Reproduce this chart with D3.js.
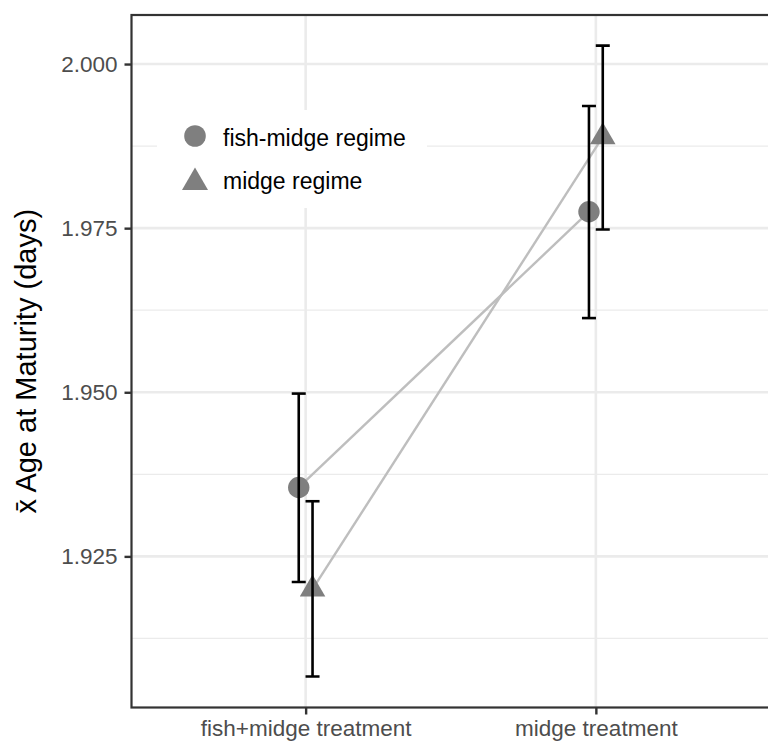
<!DOCTYPE html>
<html><head><meta charset="utf-8">
<script src="https://cdn.jsdelivr.net/npm/d3@7"></script>
<style>body{margin:0;background:#fff}svg{display:block}</style>
</head><body>
<script>
const treatments = ["fish+midge treatment", "midge treatment"];
const regimes = ["fish-midge regime", "midge regime"];
const meanFishMidgeRegime = [1.9355, 1.9775];
const lowFishMidgeRegime = [1.9211, 1.9613];
const highFishMidgeRegime = [1.9498, 1.9936];
const meanMidgeRegime = [1.9200, 1.9889];
const lowMidgeRegime = [1.9067, 1.9748];
const highMidgeRegime = [1.9334, 2.0028];
const yTicks = [1.925, 1.950, 1.975, 2.000];
const yMinor = [1.9125, 1.9375, 1.9625, 1.9875];

const W = 768, H = 750;
const L = 131.5, R = 770, T = 15, B = 707.5;
const svg = d3.select("body").append("svg").attr("width", W).attr("height", H);

const xPos = d3.scalePoint().domain(treatments).range([L, R]).padding(0.6);
const y = d3.scaleLinear().domain([1.90198, 2.00747]).range([B, T]);
const dodge = 6.9;

const font = "Liberation Sans, Arial, Helvetica, sans-serif";
const g = svg.append("g");
g.append("defs").append("clipPath").attr("id","clip").append("rect")
  .attr("x", L).attr("y", T).attr("width", R - L).attr("height", B - T);
const panel = g.append("g").attr("clip-path","url(#clip)");
panel.append("rect").attr("x", L).attr("y", T).attr("width", R - L).attr("height", B - T).attr("fill", "#fff");
// grid
panel.selectAll(".minor").data(yMinor).join("line")
  .attr("x1", L).attr("x2", R).attr("y1", d => y(d)).attr("y2", d => y(d))
  .attr("stroke", "#ebebeb").attr("stroke-width", 1.3);
panel.selectAll(".major").data(yTicks).join("line")
  .attr("x1", L).attr("x2", R).attr("y1", d => y(d)).attr("y2", d => y(d))
  .attr("stroke", "#ebebeb").attr("stroke-width", 2.6);
panel.selectAll(".vmajor").data(treatments).join("line")
  .attr("x1", d => xPos(d)).attr("x2", d => xPos(d)).attr("y1", T).attr("y2", B)
  .attr("stroke", "#ebebeb").attr("stroke-width", 2.6);

const series = [
  {name: regimes[0], mean: meanFishMidgeRegime, lo: lowFishMidgeRegime, hi: highFishMidgeRegime, off: -dodge, shape: d3.symbolCircle},
  {name: regimes[1], mean: meanMidgeRegime, lo: lowMidgeRegime, hi: highMidgeRegime, off: dodge, shape: d3.symbolTriangle}
];
const circleSize = Math.PI * 10.7 * 10.7;
const triSize = 25.5 * 25.5 * Math.sqrt(3) / 4;

series.forEach(s => {
  const pts = treatments.map((t, i) => ({x: xPos(t) + s.off, m: s.mean[i]}));
  panel.append("path").datum(pts)
    .attr("d", d3.line().x(d => d.x).y(d => y(d.m)))
    .attr("fill", "none").attr("stroke", "#bebebe").attr("stroke-width", 2.4);
});
series.forEach(s => {
  const pts = treatments.map((t, i) => ({x: xPos(t) + s.off, m: s.mean[i]}));
  panel.selectAll(null).data(pts).join("path")
    .attr("d", d3.symbol().type(s.shape).size(s.shape === d3.symbolCircle ? circleSize : triSize))
    .attr("transform", d => `translate(${d.x},${y(d.m)})`)
    .attr("fill", "#7f7f7f");
});
series.forEach(s => {
  const pts = treatments.map((t, i) => ({x: xPos(t) + s.off, lo: s.lo[i], hi: s.hi[i]}));
  const eb = panel.selectAll(null).data(pts).join("g").attr("stroke", "#000").attr("stroke-width", 2.6).attr("fill","none");
  eb.append("line").attr("x1", d => d.x).attr("x2", d => d.x).attr("y1", d => y(d.lo)).attr("y2", d => y(d.hi));
  eb.append("line").attr("x1", d => d.x - 7).attr("x2", d => d.x + 7).attr("y1", d => y(d.lo)).attr("y2", d => y(d.lo));
  eb.append("line").attr("x1", d => d.x - 7).attr("x2", d => d.x + 7).attr("y1", d => y(d.hi)).attr("y2", d => y(d.hi));
});

// legend
const lg = panel.append("g");
lg.append("rect").attr("x", 157).attr("y", 110).attr("width", 270).attr("height", 98).attr("fill", "#fff");
const legY = [136, 182.5];
const legBase = [146, 189];
series.forEach((s, i) => {
  lg.append("path")
    .attr("d", d3.symbol().type(s.shape).size(s.shape === d3.symbolCircle ? Math.PI*10.8*10.8 : 26*26*Math.sqrt(3)/4))
    .attr("transform", `translate(195,${legY[i]})`).attr("fill", "#7f7f7f");
  lg.append("text").attr("x", 223).attr("y", legBase[i])
    .attr("font-family", font).attr("font-size", 23).attr("fill", "#000").text(s.name);
});

// border
g.append("rect").attr("x", L).attr("y", T).attr("width", R - L).attr("height", B - T)
  .attr("fill", "none").attr("stroke", "#333").attr("stroke-width", 2.2);

// axes
const ya = g.append("g").attr("transform", `translate(${L},0)`)
  .call(d3.axisLeft(y).tickValues(yTicks).tickFormat(d3.format(".3f")).tickSize(7).tickPadding(7));
ya.select(".domain").remove();
ya.selectAll("line").attr("stroke", "#333").attr("stroke-width", 2.4);
ya.selectAll("text").attr("font-family", font).attr("font-size", 22.5).attr("fill", "#4d4d4d");

const xa = g.append("g").attr("transform", `translate(0,${B})`)
  .call(d3.axisBottom(xPos).tickSize(7).tickPadding(6));
xa.select(".domain").remove();
xa.selectAll("line").attr("stroke", "#333").attr("stroke-width", 2.4);
xa.selectAll("text").attr("font-family", font).attr("font-size", 22.5).attr("fill", "#4d4d4d");

svg.append("text").attr("transform", `translate(36,${(T + B) / 2}) rotate(-90)`)
  .attr("text-anchor", "middle").attr("font-family", font).attr("font-size", 29).attr("fill", "#000")
  .text("x\u0304 Age at Maturity (days)");
</script>
</body></html>
